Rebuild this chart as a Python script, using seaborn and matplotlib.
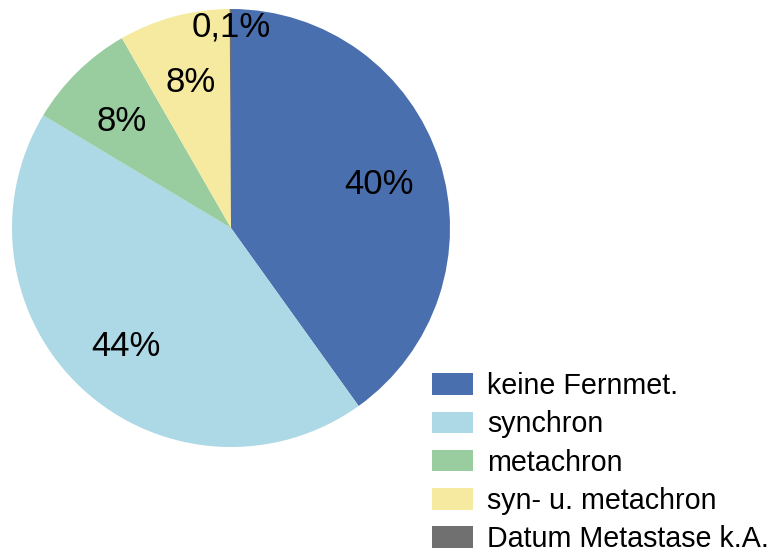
import matplotlib.pyplot as plt
import seaborn as sns

categories = ["keine Fernmet.", "synchron", "metachron", "syn- u. metachron", "Datum Metastase k.A."]
shares = [40.1, 43.5, 8.1, 8.2, 0.1]
pct_labels = ["40%", "44%", "8%", "8%", "0,1%"]
colors = ["#4A6FAE", "#ADD8E6", "#99CC9F", "#F5EAA0", "#707070"]

sns.set_style("white")
plt.rcParams['font.family'] = ['Liberation Sans', 'DejaVu Sans']
plt.rcParams['text.color'] = 'black'

fig = plt.figure(figsize=(7.72, 5.49), dpi=100)
ax = fig.add_axes([12 / 772, (549 - 228 - 219) / 549, 438 / 772, 438 / 549])

label_iter = iter(pct_labels)
wedges, _, autotexts = ax.pie(
    shares,
    colors=colors,
    startangle=90,
    counterclock=False,
    autopct=lambda p: next(label_iter),
    pctdistance=0.71,
    wedgeprops={'linewidth': 0},
    textprops={'fontsize': 25, 'color': 'black'},
)
# labels sit a touch lower in the original
for t in autotexts:
    x, y = t.get_position()
    t.set_position((x, y - 0.02))
# tiny slice label sits near the rim
autotexts[-1].set_position((0.0, 0.92))
ax.set_xlim(-1, 1)
ax.set_ylim(-1, 1)
ax.set_aspect('equal')

leg = fig.legend(
    wedges, categories,
    loc='upper left',
    bbox_to_anchor=(432 / 772, 1 - 372 / 549),
    frameon=False,
    fontsize=20.6,
    handlelength=1.42,
    handleheight=0.78,
    handletextpad=0.5,
    labelspacing=0.36,
    borderpad=0,
    borderaxespad=0,
)
for t in leg.get_texts():
    t.set_color('black')

fig.savefig("out.png", dpi=100)
